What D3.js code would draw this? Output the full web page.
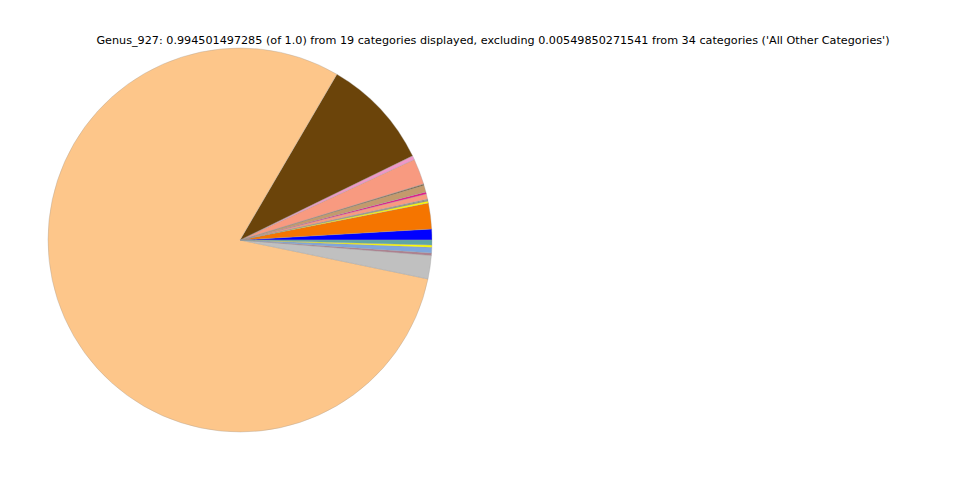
<!DOCTYPE html>
<html><head><meta charset="utf-8">
<script src="https://cdn.jsdelivr.net/npm/d3@7"></script>
<style>body{margin:0;background:#fff}</style>
</head><body>
<svg id="c" width="960" height="480"></svg>
<script>
const title = "Genus_927: 0.994501497285 (of 1.0) from 19 categories displayed, excluding 0.00549850271541 from 34 categories ('All Other Categories')";
const categories = ["c1","c2","c3","c4","c5","c6","c7","c8","c9","c10","c11","c12","c13","c14","c15","c16","c17","c18","c19"];
const values = [0.00913,0.02158,0.00166,0.00083,0.00083,0.00443,0.00166,0.00581,0.00083,0.00028,0.02158,0.00332,0.09324,0.79855,0.01965,0.00194,0.00470,0.00194,0.00415];
const colors = ["#0000ff","#f57500","#ffff00","#8a8a5c","#8a8a8a","#f89a80","#e8138a","#c49a6c","#6b4a1a","#a06040","#f89a80","#ef98c8","#6b440a","#fdc68a","#c0c0c0","#b07f8f","#7fa6dc","#ffff00","#5fa6a6"];

const svg = d3.select("#c");
svg.append("text").attr("x",493).attr("y",44).attr("text-anchor","middle")
  .attr("font-family","DejaVu Sans").attr("font-size","11.2px").attr("fill","#000").text(title);

const cx = 240, cy = 240, R = 192;
const pie = d3.pie().sort(null).value(d=>d.v).startAngle(Math.PI/2).endAngle(Math.PI/2 - 2*Math.PI);
const data = categories.map((c,i)=>({c, v: values[i], col: colors[i]}));
const arc = d3.arc().innerRadius(0).outerRadius(R);
svg.append("g").attr("transform",`translate(${cx},${cy})`)
  .selectAll("path").data(pie(data)).join("path")
  .attr("d", arc).attr("fill", d=>d.data.col)
  .attr("stroke","#999").attr("stroke-width",0.4).attr("stroke-opacity",0.8);
</script>
</body></html>
